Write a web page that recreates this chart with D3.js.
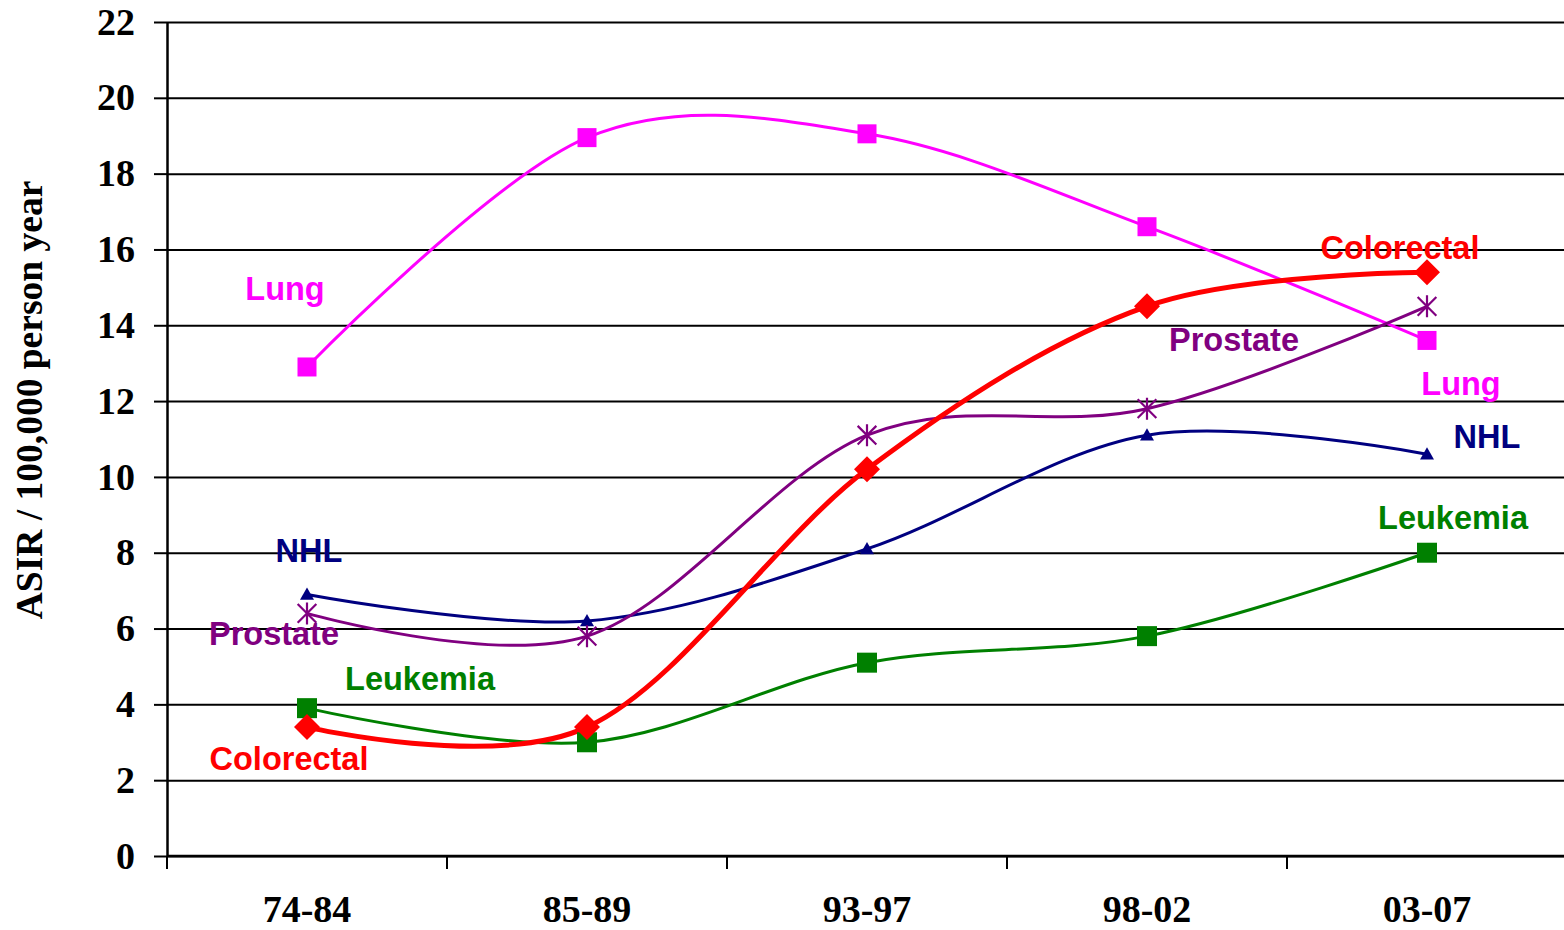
<!DOCTYPE html>
<html>
<head>
<meta charset="utf-8">
<script src="https://cdn.jsdelivr.net/npm/d3@7"></script>
<style>
  html, body { margin: 0; padding: 0; background: #fff; }
  svg { display: block; }
</style>
</head>
<body>
<svg id="chart" width="1564" height="930"></svg>
<script>
// ---- data ----
const categories = ["74-84", "85-89", "93-97", "98-02", "03-07"];
const lung       = [12.9, 18.95, 19.05, 16.6, 13.6];
const colorectal = [3.4, 3.4, 10.2, 14.5, 15.4];
const prostate   = [6.4, 5.8, 11.1, 11.8, 14.5];
const nhl        = [6.9, 6.2, 8.1, 11.1, 10.6];
const leukemia   = [3.9, 3.0, 5.1, 5.8, 8.0];
const yTicks = [0, 2, 4, 6, 8, 10, 12, 14, 16, 18, 20, 22];
const yTitle = "ASIR / 100,000 person year";

// ---- series styling ----
const series = [
  { name: "Lung", values: lung, color: "#FF00FF", width: 3, marker: "square", size: 19,
    labels: [{ i: 0, dx: -22, dy: -67 }, { i: 4, dx: 34, dy: 55 }] },
  { name: "Leukemia", values: leukemia, color: "#008000", width: 3, marker: "square", size: 20,
    labels: [{ i: 0, dx: 113, dy: -18 }, { i: 4, dx: 26, dy: -24 }] },
  { name: "NHL", values: nhl, color: "#000080", width: 3, marker: "triangle", size: 14,
    labels: [{ i: 0, dx: 2, dy: -32 }, { i: 4, dx: 60, dy: -6 }] },
  { name: "Prostate", values: prostate, color: "#800080", width: 3, marker: "asterisk", size: 22,
    labels: [{ i: 0, dx: -33, dy: 32 }, { i: 4, dx: -193, dy: 45 }] },
  { name: "Colorectal", values: colorectal, color: "#FF0000", width: 5, marker: "diamond", size: 26,
    labels: [{ i: 0, dx: -18, dy: 43 }, { i: 4, dx: -27, dy: -13 }] }
];

const svg = d3.select("#chart");
const mLeft = 167, mRight = 1567, mTop = 22, mBottom = 856;

const x = d3.scaleBand().domain(categories).range([mLeft, mRight]).padding(0);
const y = d3.scaleLinear().domain([0, 22]).range([mBottom, mTop]);
const cx = c => x(c) + x.bandwidth() / 2;

// gridlines
svg.append("g")
  .attr("transform", `translate(${mLeft},0)`)
  .call(d3.axisLeft(y).tickValues(yTicks).tickSize(-(1564 - mLeft)).tickFormat(""))
  .call(g => g.select(".domain").remove())
  .call(g => g.selectAll("line").attr("stroke", "#000").attr("stroke-width", 2));

// y axis
svg.append("g")
  .attr("transform", `translate(${mLeft},0)`)
  .call(d3.axisLeft(y).tickValues(yTicks).tickSize(13).tickSizeOuter(0).tickPadding(19))
  .call(g => g.select(".domain").attr("stroke", "#000").attr("stroke-width", 2.5))
  .call(g => g.selectAll("line").attr("stroke", "#000").attr("stroke-width", 2))
  .call(g => g.selectAll("text")
    .attr("font-family", "'Liberation Serif', 'Times New Roman', serif")
    .attr("font-weight", "bold").attr("font-size", 38).attr("fill", "#000"));

// x axis line + boundary ticks
const xAxisG = svg.append("g");
xAxisG.append("line")
  .attr("x1", mLeft).attr("x2", 1564).attr("y1", mBottom).attr("y2", mBottom)
  .attr("stroke", "#000").attr("stroke-width", 2.5);
const boundaries = categories.map(c => x(c)).concat([x.range()[1]]);
xAxisG.selectAll("line.tick").data(boundaries).join("line")
  .attr("class", "tick")
  .attr("x1", d => d).attr("x2", d => d)
  .attr("y1", mBottom).attr("y2", mBottom + 13)
  .attr("stroke", "#000").attr("stroke-width", 2);
xAxisG.selectAll("text").data(categories).join("text")
  .attr("x", d => cx(d)).attr("y", 922)
  .attr("text-anchor", "middle")
  .attr("font-family", "'Liberation Serif', 'Times New Roman', serif")
  .attr("font-weight", "bold").attr("font-size", 38).attr("fill", "#000")
  .text(d => d);

// y title
svg.append("text")
  .attr("transform", "translate(42,400) rotate(-90)")
  .attr("text-anchor", "middle")
  .attr("font-family", "'Liberation Serif', 'Times New Roman', serif")
  .attr("font-weight", "bold").attr("font-size", 37.5).attr("fill", "#000")
  .text(yTitle);

// lines
const line = d3.line()
  .x((d, i) => cx(categories[i]))
  .y(d => y(d))
  .curve(d3.curveCardinal.tension(0));

series.forEach(s => {
  svg.append("path")
    .datum(s.values)
    .attr("d", line)
    .attr("fill", "none")
    .attr("stroke", s.color)
    .attr("stroke-width", s.width)
    .attr("stroke-linejoin", "round");
});

// markers
series.forEach(s => {
  const g = svg.append("g");
  s.values.forEach((v, i) => {
    const px = cx(categories[i]), py = y(v), r = s.size / 2;
    if (s.marker === "square") {
      g.append("rect").attr("x", px - r).attr("y", py - r)
        .attr("width", s.size).attr("height", s.size).attr("fill", s.color);
    } else if (s.marker === "diamond") {
      g.append("path")
        .attr("d", `M${px},${py - r}L${px + r},${py}L${px},${py + r}L${px - r},${py}Z`)
        .attr("fill", s.color);
    } else if (s.marker === "triangle") {
      g.append("path")
        .attr("d", `M${px},${py - r}L${px + r},${py + r * 0.75}L${px - r},${py + r * 0.75}Z`)
        .attr("fill", s.color);
    } else if (s.marker === "asterisk") {
      const d = r * 0.85;
      g.append("path")
        .attr("d", `M${px - d},${py - d}L${px + d},${py + d}M${px + d},${py - d}L${px - d},${py + d}M${px},${py - r}L${px},${py + r}`)
        .attr("stroke", s.color).attr("stroke-width", 2.2).attr("fill", "none");
    }
  });
});

// series labels
series.forEach(s => {
  s.labels.forEach(l => {
    svg.append("text")
      .attr("x", cx(categories[l.i]) + l.dx)
      .attr("y", y(s.values[l.i]) + l.dy)
      .attr("text-anchor", "middle")
      .attr("font-family", "'Liberation Sans', Arial, sans-serif")
      .attr("font-weight", "bold").attr("font-size", 32.5)
      .attr("fill", s.color)
      .text(s.name);
  });
});
</script>
</body>
</html>
